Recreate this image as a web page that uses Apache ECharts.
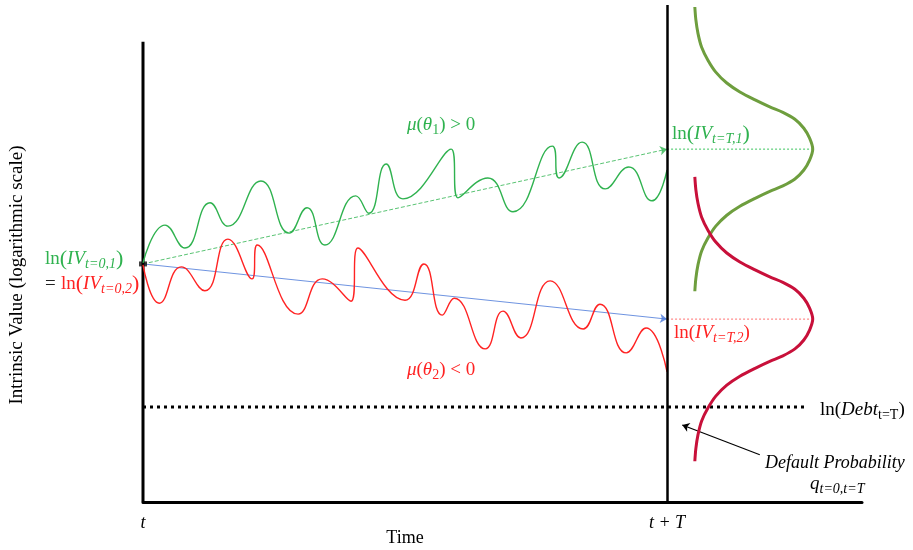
<!DOCTYPE html>
<html>
<head>
<meta charset="utf-8">
<script src="https://cdn.jsdelivr.net/npm/echarts@6/dist/echarts.min.js"></script>
<style>
  html, body { margin: 0; padding: 0; background: #fff; }
  #chart { width: 913px; height: 550px; }
</style>
</head>
<body>
<div id="chart"></div>
<script>
// time runs 0 (t) .. 100 (t + T); value is ln(IV) on an arbitrary 0..100 scale
const horizonT = 100;
const xMax = 137.2;
const xTickLabels = { 0: 't', 100: 't + T' };

// simulated path with positive drift
const greenPath = [
  [0, 48.1], [4.2, 55.7], [8.0, 51.1], [12.8, 60.2], [16.2, 55.5], [22.5, 64.6],
  [27.9, 54.1], [31.3, 59.2], [34.7, 51.7], [40.6, 61.6], [43.1, 58.1], [46.4, 68.0],
  [49.6, 61.0], [58.8, 71.0], [60.1, 61.2], [65.8, 65.2], [70.6, 58.4], [78.1, 71.6],
  [79.4, 65.2], [83.8, 72.4], [88.2, 63.0], [92.7, 67.4], [97.1, 60.6], [100, 66.8]
];
// simulated path with negative drift
const redPath = [
  [0, 47.7], [3.1, 40.0], [7.3, 47.3], [11.8, 42.5], [16.2, 52.9], [20.8, 44.9],
  [21.8, 51.7], [29.6, 37.8], [34.2, 44.9], [39.7, 40.4], [41.0, 51.1], [50.0, 40.6],
  [53.6, 47.9], [57.1, 37.6], [59.4, 41.0], [65.3, 30.8], [68.7, 38.4], [72.1, 33.0],
  [77.7, 44.5], [84.0, 34.8], [87.2, 39.8], [92.2, 30.0], [96.0, 35.0], [100, 26.2]
];

const startValue = 47.9;
const endMean1 = 71.0;
const endMean2 = 36.8;
const debtLevel = 19.1;
const leftAxisTop = 92.6;
const debtLineEnd = 126.9;
const meanLineEnd = 127.9;

// bell profile (upper half): [offset from mean, density]; mirrored below the mean
const bellBase = 105.3;
const bellHalf = [
  [28.6, 0], [26.0, 0.2], [23.3, 0.6], [20.5, 1.3], [17.9, 2.5], [15.5, 4.0],
  [13.3, 6.1], [11.5, 8.6], [9.9, 11.5], [8.5, 14.3], [7.4, 16.8], [6.0, 19.1],
  [4.2, 20.8], [2.2, 21.9], [0, 22.5]
];

// arrow pointing at the default region
const defaultArrow = [[117.7, 9.5], [102.9, 15.5]];

function bell(mean) {
  const top = bellHalf.map(function (p) { return [bellBase + p[1], mean + p[0]]; });
  const bottom = bellHalf.slice(0, -1).reverse().map(function (p) { return [bellBase + p[1], mean - p[0]]; });
  return top.concat(bottom);
}

const F = 'Liberation Serif';
const rich = {
  n: { fontFamily: F, fontSize: 19 },
  b: { fontFamily: F, fontSize: 22 },
  i: { fontFamily: F, fontSize: 19, fontStyle: 'italic' },
  s: { fontFamily: F, fontSize: 14, fontStyle: 'italic', padding: [11, 0, 0, 0] },
  u: { fontFamily: F, fontSize: 14, padding: [11, 0, 0, 0] }
};
const GREEN = '#2fb24f';
const RED = '#ff2323';

function txt(x, y, text, color, extra) {
  return {
    type: 'text', x: x, y: y,
    style: Object.assign({
      text: text, fill: color, rich: rich, font: '19px ' + F,
      align: 'left', verticalAlign: 'middle'
    }, extra || {})
  };
}

const chart = echarts.init(document.getElementById('chart'));
chart.setOption({
  animation: false,
  grid: { left: 143, right: 51, top: 5, bottom: 48 },
  xAxis: {
    type: 'value', min: 0, max: xMax, interval: horizonT,
    axisLine: { show: true, lineStyle: { color: '#000', width: 3 } },
    axisTick: { show: false },
    splitLine: { show: false },
    axisLabel: {
      showMaxLabel: false, margin: 12, color: '#000',
      fontFamily: F, fontSize: 18, fontStyle: 'italic',
      formatter: function (v) { return xTickLabels[v] !== undefined ? xTickLabels[v] : ''; }
    }
  },
  yAxis: { type: 'value', min: 0, max: 100, show: false },
  series: [
    {
      type: 'line', data: [[0, 0], [0, leftAxisTop]], showSymbol: false, silent: true,
      lineStyle: { color: '#000', width: 3 },
      markLine: {
        silent: true, symbol: 'none', label: { show: false },
        lineStyle: { color: '#000', width: 2.5, type: 'solid' },
        data: [{ xAxis: horizonT }]
      }
    },
    {
      type: 'line', data: [[0, debtLevel], [debtLineEnd, debtLevel]], showSymbol: false,
      lineStyle: { color: '#000', width: 3, type: [3, 4] }
    },
    {
      type: 'line', data: [[horizonT, endMean1], [meanLineEnd, endMean1]], showSymbol: false,
      lineStyle: { color: '#3cc45e', width: 1, type: [2, 2] }
    },
    {
      type: 'line', data: [[horizonT, endMean2], [meanLineEnd, endMean2]], showSymbol: false,
      lineStyle: { color: '#ff7070', width: 1, type: [2, 2] }
    },
    {
      type: 'line', data: greenPath, smooth: 0.5, showSymbol: false,
      lineStyle: { color: GREEN, width: 1.4 }
    },
    {
      type: 'line', data: redPath, smooth: 0.5, showSymbol: false,
      lineStyle: { color: RED, width: 1.4 }
    },
    {
      type: 'lines', coordinateSystem: 'cartesian2d', symbol: ['none', 'arrow'], symbolSize: 7,
      data: [
        { coords: [[0, startValue], [horizonT, endMean1]], lineStyle: { color: '#3cb85a', type: [4, 2], width: 1, opacity: 0.85 } },
        { coords: [[0, startValue], [horizonT, endMean2]], lineStyle: { color: '#4a78d8', type: 'solid', width: 1, opacity: 0.8 } },
        { coords: defaultArrow, lineStyle: { color: '#000', type: 'solid', width: 1.2, opacity: 1 } }
      ]
    },
    {
      type: 'line', data: bell(endMean1), smooth: 0.3, showSymbol: false,
      lineStyle: { color: '#6e9e3e', width: 3 }
    },
    {
      type: 'line', data: bell(endMean2), smooth: 0.3, showSymbol: false,
      lineStyle: { color: '#c8103a', width: 3 }
    },
    {
      type: 'scatter', data: [[0, startValue]], symbol: 'rect', symbolSize: [8, 5],
      itemStyle: { color: '#111' }
    }
  ],
  graphic: [
    {
      type: 'text', x: 17, y: 275, rotation: Math.PI / 2,
      style: { text: 'Intrinsic Value (logarithmic scale)', font: '19px ' + F, fill: '#000', align: 'center', verticalAlign: 'middle' }
    },
    txt(405, 538, 'Time', '#000', { align: 'center', font: '18px ' + F }),
    txt(45, 259, '{n|ln}{b|(}{i|IV}{s|t=0,1}{b|)}', GREEN),
    txt(45, 284, '=', '#222'),
    txt(61, 284, '{n|ln}{b|(}{i|IV}{s|t=0,2}{b|)}', RED),
    txt(407, 125, '{i|μ}{n|(}{i|θ}{u|1}{n|) > 0}', GREEN),
    txt(407, 370, '{i|μ}{n|(}{i|θ}{u|2}{n|) < 0}', RED),
    txt(672, 134, '{n|ln}{b|(}{i|IV}{s|t=T,1}{b|)}', GREEN),
    txt(674, 333, '{n|ln(}{i|IV}{s|t=T,2}{n|)}', RED),
    txt(820, 410, '{n|ln(}{i|Debt}{u|t=T}{n|)}', '#000'),
    txt(765, 463, 'Default Probability', '#000', { font: 'italic 18px ' + F }),
    txt(810, 484, '{i|q}{s|t=0,t=T}', '#000')
  ]
});
</script>
</body>
</html>
